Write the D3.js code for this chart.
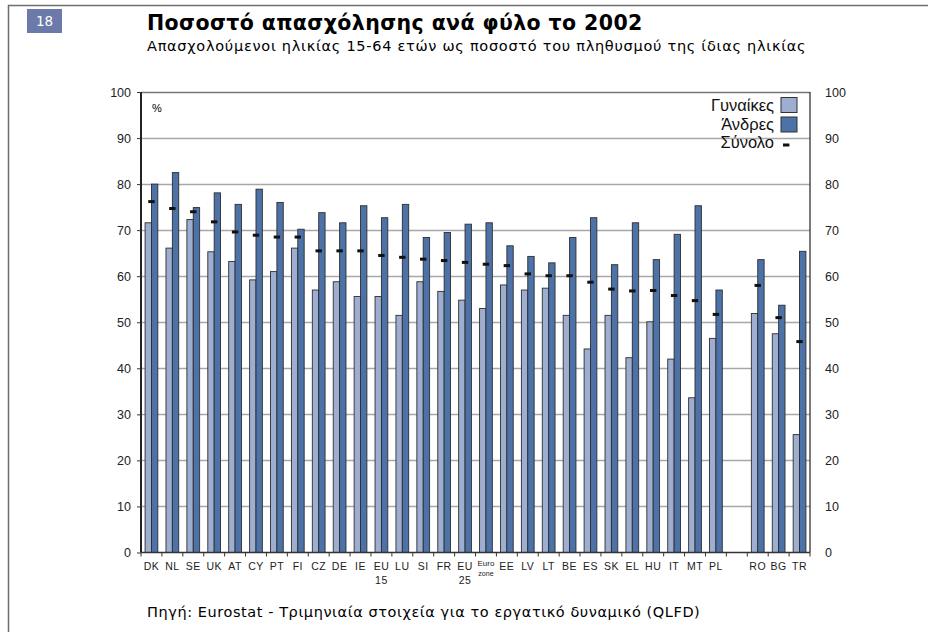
<!DOCTYPE html>
<html>
<head>
<meta charset="utf-8">
<script src="https://cdn.jsdelivr.net/npm/d3@7"></script>
<style>
  html, body { margin: 0; padding: 0; background: #fff; }
  svg { display: block; }
</style>
</head>
<body>
<svg id="chart" width="928" height="632"></svg>
<script>
// ---- data ----
const categories = ["DK","NL","SE","UK","AT","CY","PT","FI","CZ","DE","IE","EU15","LU","SI","FR","EU25","Eurozone","EE","LV","LT","BE","ES","SK","EL","HU","IT","MT","PL","gap","RO","BG","TR"];
const categoryLabels = [["DK"],["NL"],["SE"],["UK"],["AT"],["CY"],["PT"],["FI"],["CZ"],["DE"],["IE"],["EU","15"],["LU"],["SI"],["FR"],["EU","25"],["Euro","zone"],["EE"],["LV"],["LT"],["BE"],["ES"],["SK"],["EL"],["HU"],["IT"],["MT"],["PL"],[],["RO"],["BG"],["TR"]];
const women = [71.6,66.1,72.3,65.3,63.2,59.2,61.0,66.1,57.0,58.8,55.6,55.6,51.5,58.8,56.7,54.8,53.0,58.1,57.0,57.4,51.5,44.2,51.5,42.3,50.1,42.0,33.6,46.5,null,51.9,47.5,25.6];
const men   = [80.0,82.5,74.9,78.1,75.6,78.9,76.0,70.2,73.8,71.6,75.3,72.7,75.6,68.4,69.5,71.3,71.6,66.6,64.3,62.9,68.4,72.7,62.5,71.6,63.6,69.1,75.3,57.0,null,63.6,53.7,65.4];
const total = [76.2,74.7,74.0,71.8,69.6,68.9,68.5,68.5,65.5,65.5,65.5,64.5,64.1,63.7,63.4,63.0,62.6,62.3,60.5,60.1,60.1,58.7,57.2,56.8,56.9,55.8,54.7,51.7,null,58.0,51.0,45.8];
const yTicks = [0,10,20,30,40,50,60,70,80,90,100];
const seriesNames = ["Γυναίκες","Άνδρες","Σύνολο"];
const titleText = "Ποσοστό απασχόλησης ανά φύλο το 2002";
const subtitleText = "Απασχολούμενοι ηλικίας 15-64 ετών ως ποσοστό του πληθυσμού της ίδιας ηλικίας";
const sourceText = "Πηγή: Eurostat - Τριμηνιαία στοιχεία για το εργατικό δυναμικό (QLFD)";
const pageNumber = "18";

(function () {
// ---- styles ----
const cWomen = "#9eaed0";
const cMen = "#4c72a8";
const cOutline = "#2e2e2e";
const gridColor = "#a8a8a8";
const axisFont = "'Liberation Sans', Arial, sans-serif";
const textFont = "'DejaVu Sans', Verdana, sans-serif";

const svg = d3.select("#chart");

// frame
svg.append("path").attr("d", "M8.5,632 V5.5 H928")
  .attr("fill", "none").attr("stroke", "#6e6e6e").attr("stroke-width", 1.5);

// page number box
svg.append("rect").attr("x", 27).attr("y", 9).attr("width", 35).attr("height", 24).attr("fill", "#6b7aa9");
svg.append("text").attr("x", 44.5).attr("y", 26).attr("text-anchor", "middle")
  .attr("fill", "#fff").attr("font-family", textFont).attr("font-size", 13.5).text(pageNumber);

// title
svg.append("text").attr("x", 147).attr("y", 30).attr("font-family", textFont)
  .attr("font-weight", "bold").attr("font-size", 20.5).attr("letter-spacing", 0.4).attr("fill", "#000").text(titleText);
svg.append("text").attr("x", 147).attr("y", 51).attr("font-family", textFont)
  .attr("font-size", 14.5).attr("letter-spacing", 0.72).attr("fill", "#000").text(subtitleText);

// scales
const pLeft = 141, pRight = 810, pTop = 92, pBottom = 552.5;
const x = d3.scaleBand().domain(categories).range([pLeft, pRight]).padding(0);
const y = d3.scaleLinear().domain([0, 100]).range([pBottom, pTop]);
const bw = x.bandwidth();
const barW = bw * 0.305;

// gridlines
svg.append("g").selectAll("line").data(yTicks.filter(t => t > 0)).join("line")
  .attr("x1", pLeft).attr("x2", pRight)
  .attr("y1", d => Math.round(y(d)) + 0.5).attr("y2", d => Math.round(y(d)) + 0.5)
  .attr("stroke", d => d === 100 ? "#777" : gridColor).attr("stroke-width", 1.3);

// bars
const rows = categories.map((c, i) => ({ c, w: women[i], m: men[i], t: total[i], lab: categoryLabels[i] }));
const barsG = svg.append("g");
barsG.selectAll("rect.w").data(rows.filter(r => r.w != null)).join("rect")
  .attr("class", "w")
  .attr("x", d => x(d.c) + bw / 2 - barW)
  .attr("y", d => y(d.w)).attr("width", barW).attr("height", d => y(0) - y(d.w))
  .attr("fill", cWomen).attr("stroke", cOutline).attr("stroke-width", 0.9);
barsG.selectAll("rect.m").data(rows.filter(r => r.m != null)).join("rect")
  .attr("class", "m")
  .attr("x", d => x(d.c) + bw / 2)
  .attr("y", d => y(d.m)).attr("width", barW).attr("height", d => y(0) - y(d.m))
  .attr("fill", cMen).attr("stroke", cOutline).attr("stroke-width", 0.9);
// total dashes
barsG.selectAll("rect.t").data(rows.filter(r => r.t != null)).join("rect")
  .attr("class", "t")
  .attr("x", d => x(d.c) + bw / 2 - 3.2)
  .attr("y", d => y(d.t) - 1.5).attr("width", 6.4).attr("height", 3)
  .attr("fill", "#111");

// left axis
const yAxisL = d3.axisLeft(y).tickValues(yTicks).tickSize(4).tickPadding(6);
const gL = svg.append("g").attr("transform", `translate(${pLeft},0)`).call(yAxisL);
gL.select(".domain").attr("stroke", "#222").attr("stroke-width", 2).attr("d", `M0,${pBottom}V${pTop}`);
gL.selectAll(".tick line").attr("stroke", "#333");
gL.selectAll("text").attr("font-family", axisFont).attr("font-size", 12.5).attr("fill", "#222");

// right axis
const yAxisR = d3.axisRight(y).tickValues(yTicks).tickSize(0).tickPadding(15);
const gR = svg.append("g").attr("transform", `translate(${pRight},0)`).call(yAxisR);
gR.select(".domain").attr("stroke", "#333").attr("stroke-width", 1.3).attr("d", `M0,${pBottom}V${pTop}`);
gR.selectAll("text").attr("font-family", axisFont).attr("font-size", 12.5).attr("fill", "#222");

// bottom axis with boundary ticks
const gB = svg.append("g");
gB.append("line").attr("x1", pLeft).attr("x2", pRight).attr("y1", pBottom).attr("y2", pBottom)
  .attr("stroke", "#333").attr("stroke-width", 1.3);
const boundaries = categories.map(c => x(c)).concat([pRight]);
gB.selectAll("line.tk").data(boundaries).join("line").attr("class", "tk")
  .attr("x1", d => d).attr("x2", d => d).attr("y1", pBottom).attr("y2", pBottom + 4)
  .attr("stroke", "#333").attr("stroke-width", 1);

// category labels
const labG = svg.append("g").attr("font-family", axisFont).attr("fill", "#222").attr("text-anchor", "middle");
rows.forEach(r => {
  if (!r.lab.length) return;
  const cx = x(r.c) + bw / 2;
  if (r.c === "Eurozone") {
    labG.append("text").attr("x", cx).attr("y", 566).attr("font-size", 8).text(r.lab[0]);
    labG.append("text").attr("x", cx).attr("y", 576).attr("font-size", 7).text(r.lab[1]);
  } else {
    labG.append("text").attr("x", cx).attr("y", 570).attr("font-size", 10.5).attr("letter-spacing", 0.5).text(r.lab[0]);
    if (r.lab[1]) labG.append("text").attr("x", cx).attr("y", 584).attr("font-size", 10.5).attr("letter-spacing", 0.5).text(r.lab[1]);
  }
});

// % label
svg.append("text").attr("x", 152).attr("y", 112).attr("font-family", axisFont).attr("font-size", 11).text("%");

// legend
const legG = svg.append("g").attr("font-family", axisFont).attr("font-size", 16.5).attr("fill", "#111");
const legRows = [
  { name: seriesNames[0], type: "box", color: cWomen, yBox: 97.5, yText: 111 },
  { name: seriesNames[1], type: "box", color: cMen, yBox: 117, yText: 130 },
  { name: seriesNames[2], type: "dash", yText: 148 }
];
legRows.forEach(l => {
  legG.append("text").attr("x", 774).attr("y", l.yText).attr("text-anchor", "end").text(l.name);
  if (l.type === "box") {
    legG.append("rect").attr("x", 781).attr("y", l.yBox).attr("width", 16).attr("height", 15)
      .attr("fill", l.color).attr("stroke", "#333").attr("stroke-width", 1);
  } else {
    legG.append("rect").attr("x", 783).attr("y", 143.5).attr("width", 6.4).attr("height", 3).attr("fill", "#111");
  }
});

// source
svg.append("text").attr("x", 147).attr("y", 617).attr("font-family", textFont)
  .attr("font-size", 14.5).attr("letter-spacing", 0.57).attr("fill", "#000").text(sourceText);
})();
</script>
</body>
</html>
